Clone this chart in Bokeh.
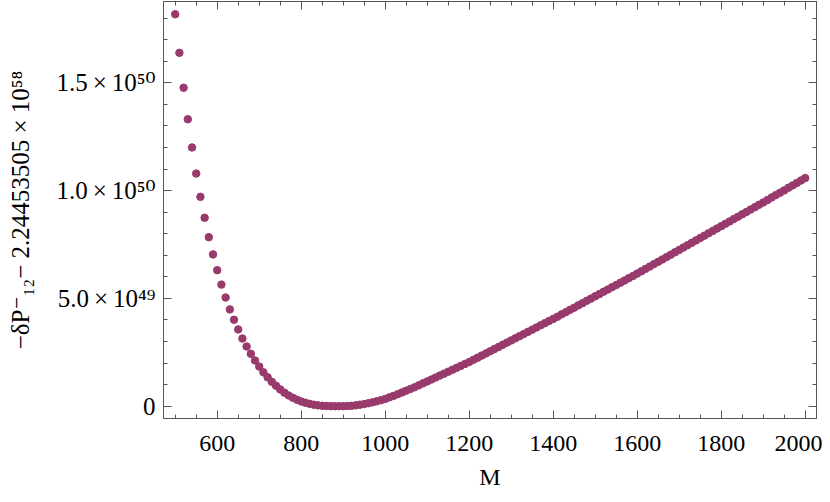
from bokeh.plotting import figure
from bokeh.models import LinearAxis, FixedTicker, Range1d, CustomJSTickFormatter
from bokeh.embed import file_html
from bokeh.resources import INLINE

# M values (step 10) and the plotted quantity in units of 1e49
M = list(range(500, 2001, 10))
V = [
    18.18, 16.39, 14.77, 13.31, 12.00, 10.79, 9.71, 8.74, 7.84, 7.04,
    6.31, 5.64, 5.04, 4.49, 4.01, 3.56, 3.14, 2.77, 2.43, 2.12,
    1.84, 1.57, 1.34, 1.13, 0.95, 0.78, 0.63, 0.50, 0.39, 0.30,
    0.22, 0.16, 0.11, 0.07, 0.04, 0.02, 0.01, 0.003, 0.0, 0.0,
    0.003, 0.01, 0.02, 0.04, 0.07, 0.10, 0.14, 0.18, 0.23, 0.28,
    0.34, 0.41, 0.48, 0.56, 0.64, 0.72, 0.80, 0.88, 0.97, 1.06,
    1.15, 1.24, 1.33, 1.42, 1.51, 1.60, 1.69, 1.78, 1.87, 1.96,
    2.05, 2.15, 2.25, 2.35, 2.45, 2.55, 2.65, 2.75, 2.85, 2.95,
    3.05, 3.15, 3.25, 3.35, 3.45, 3.55, 3.65, 3.75, 3.85, 3.95,
    4.05, 4.15, 4.26, 4.36, 4.47, 4.57, 4.68, 4.78, 4.89, 4.99,
    5.10, 5.20, 5.31, 5.41, 5.52, 5.62, 5.73, 5.83, 5.94, 6.04,
    6.15, 6.26, 6.37, 6.48, 6.59, 6.70, 6.81, 6.92, 7.03, 7.14,
    7.25, 7.36, 7.47, 7.58, 7.69, 7.80, 7.91, 8.02, 8.13, 8.24,
    8.35, 8.46, 8.57, 8.68, 8.79, 8.90, 9.01, 9.12, 9.23, 9.34,
    9.45, 9.56, 9.68, 9.79, 9.90, 10.01, 10.13, 10.24, 10.35, 10.47,
    10.58,
]

x_major = [600, 800, 1000, 1200, 1400, 1600, 1800, 2000]
x_minor = list(range(500, 2001, 50))
y_major = [0, 5, 10, 15]
y_minor = list(range(0, 19, 1))
y_tick_labels = {0: "0", 5: "5.0\u2009×\u200910⁴⁹", 10: "1.0\u2009×\u200910⁵⁰", 15: "1.5\u2009×\u200910⁵⁰"}
x_label = "M"
y_label = "−δP⁻₁₂− 2.24453505 × 10⁵⁸"

FONT = "Liberation Serif, DejaVu Serif"
AX = "#555555"
X0, X1 = 472.1, 2026.9
Y0, Y1 = -0.57, 18.77

p = figure(width=822, height=494,
           x_range=Range1d(X0, X1), y_range=Range1d(Y0, Y1),
           output_backend="svg", toolbar_location=None,
           min_border_left=163, min_border_right=6, min_border_top=1,
           min_border_bottom=76, x_axis_label=x_label, y_axis_label=y_label)
p.grid.visible = False
p.outline_line_color = AX
p.background_fill_color = "white"
p.border_fill_color = "white"

p.scatter(M, V, size=7.5, color="#993a6d", line_color="#993a6d")

xt = FixedTicker(ticks=x_major, minor_ticks=x_minor)
yt = FixedTicker(ticks=y_major, minor_ticks=y_minor)
blank = CustomJSTickFormatter(code="return ''")

def style(ax, size="24px"):
    ax.axis_line_color = AX
    ax.major_tick_line_color = AX
    ax.minor_tick_line_color = AX
    ax.major_tick_in = 8
    ax.major_tick_out = 0
    ax.minor_tick_in = 4
    ax.minor_tick_out = 0
    ax.major_label_text_font = FONT
    ax.major_label_text_font_size = size
    ax.major_label_text_color = "black"
    ax.axis_label_text_font = FONT
    ax.axis_label_text_font_size = size
    ax.axis_label_text_font_style = "normal"
    ax.axis_label_text_color = "black"

xa = p.xaxis[0]
xa.ticker = xt
style(xa)
xa.major_label_standoff = 17
xa.axis_label_standoff = 10

ya = p.yaxis[0]
ya.ticker = yt
style(ya, "25px")
ya.major_label_overrides = y_tick_labels
ya.major_label_standoff = 8
ya.axis_label_standoff = 19

for loc, tk in (("above", xt), ("right", yt)):
    a = LinearAxis(ticker=tk, formatter=blank)
    style(a)
    a.major_label_standoff = 0
    p.add_layout(a, loc)

open("out.html", "w").write(file_html(p, INLINE))
